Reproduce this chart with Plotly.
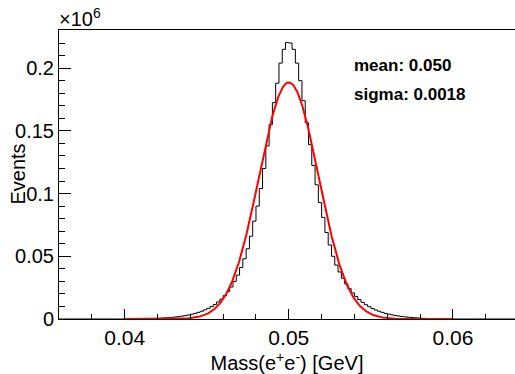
import numpy as np
import plotly.graph_objects as go

# ---- data ----
axis_min, axis_max = 0.036, 0.064          # histogram axis range (GeV)
hist_start = 0.0414                          # lower edge of first non-empty bin
bin_width = 0.0002
events_millions = [
    0.0002, 0.0003, 0.0004, 0.0005, 0.0007, 0.0009, 0.0011, 0.0013, 0.0016, 0.0019,
    0.0023, 0.0027, 0.0032, 0.0038, 0.0045, 0.0053, 0.0062, 0.0073, 0.0085, 0.0099,
    0.0116, 0.0136, 0.0159, 0.0186, 0.0218, 0.0255, 0.0300, 0.0350, 0.0410, 0.0480,
    0.0560, 0.0660, 0.0780, 0.0900, 0.1040, 0.1200, 0.1380, 0.1550, 0.1725, 0.1880,
    0.2040, 0.2150, 0.2205, 0.2200, 0.2150, 0.2040, 0.1900, 0.1740, 0.1565, 0.1390,
    0.1224, 0.1070, 0.0928, 0.0810, 0.0690, 0.0590, 0.0500, 0.0430, 0.0375, 0.0325,
    0.0280, 0.0242, 0.0208, 0.0180, 0.0155, 0.0133, 0.0114, 0.0098, 0.0084, 0.0072,
    0.0062, 0.0053, 0.0045, 0.0039, 0.0033, 0.0028, 0.0024, 0.0020, 0.0017, 0.0014,
    0.0012, 0.0010, 0.0008, 0.0006, 0.0005, 0.0004, 0.0003, 0.0002,
]
fit_mean = 0.050
fit_sigma = 0.0018
fit_amplitude = 0.1886
fit_range = (0.040, 0.060)
x_ticks = [0.04, 0.05, 0.06]
x_tick_labels = ["0.04", "0.05", "0.06"]
y_ticks = [0, 0.05, 0.1, 0.15, 0.2]
y_tick_labels = ["0", "0.05", "0.1", "0.15", "0.2"]

# ---- histogram step outline ----
edges = hist_start + bin_width * np.arange(len(events_millions) + 1)
hx = [axis_min] + list(edges) + [axis_max]
hy = [0.0] + list(events_millions) + [0.0, 0.0]

fx = np.linspace(fit_range[0], fit_range[1], 500)
fy = fit_amplitude * np.exp(-0.5 * ((fx - fit_mean) / fit_sigma) ** 2)

FONT = "Liberation Sans, Arial, Helvetica, sans-serif"

fig = go.Figure()
fig.add_trace(go.Scatter(x=hx, y=hy, mode="lines", line=dict(color="black", width=1, shape="hv"),
                         hoverinfo="skip", showlegend=False))
fig.add_trace(go.Scatter(x=fx, y=fy, mode="lines", line=dict(color="#ff0000", width=2),
                         hoverinfo="skip", showlegend=False))

fig.update_layout(
    width=515, height=374,
    margin=dict(l=59, r=0, t=30, b=55),
    paper_bgcolor="white", plot_bgcolor="white",
    font=dict(family=FONT, color="black", size=20),
    xaxis=dict(range=[axis_min, 0.06378], showgrid=False, zeroline=False,
               showline=True, linecolor="black", linewidth=1, mirror=True,
               ticks="inside", ticklen=10, tickcolor="black",
               tickvals=x_ticks, ticktext=x_tick_labels, tickfont=dict(size=21),
               minor=dict(dtick=0.002, tick0=0.0, ticks="inside", ticklen=5, tickcolor="black"),
               title=dict(text="Mass(e<sup>+</sup>e<sup>-</sup>) [GeV]", font=dict(size=20), standoff=2)),
    yaxis=dict(range=[0, 0.2304], showgrid=False, zeroline=False,
               showline=True, linecolor="black", linewidth=1,
               ticks="inside", ticklen=12, tickcolor="black",
               tickvals=y_ticks, ticktext=y_tick_labels, tickfont=dict(size=20),
               minor=dict(dtick=0.01, tick0=0.0, ticks="inside", ticklen=6, tickcolor="black")),
)

fig.add_annotation(xref="paper", yref="paper", x=-0.092, y=0.5, xanchor="center", yanchor="middle",
                   text="Events", textangle=-90, showarrow=False, font=dict(size=20))
fig.add_annotation(xref="paper", yref="paper", x=0, y=1, xanchor="left", yanchor="bottom",
                   text="×10<sup>6</sup>", showarrow=False, font=dict(size=20), yshift=-2, xshift=-2)
fig.add_annotation(xref="paper", yref="paper", x=0.643, y=0.877, xanchor="left", yanchor="middle",
                   text="<b>mean: 0.050</b>", showarrow=False, font=dict(size=17))
fig.add_annotation(xref="paper", yref="paper", x=0.643, y=0.777, xanchor="left", yanchor="middle",
                   text="<b>sigma: 0.0018</b>", showarrow=False, font=dict(size=17))

fig.write_html("out.html")
